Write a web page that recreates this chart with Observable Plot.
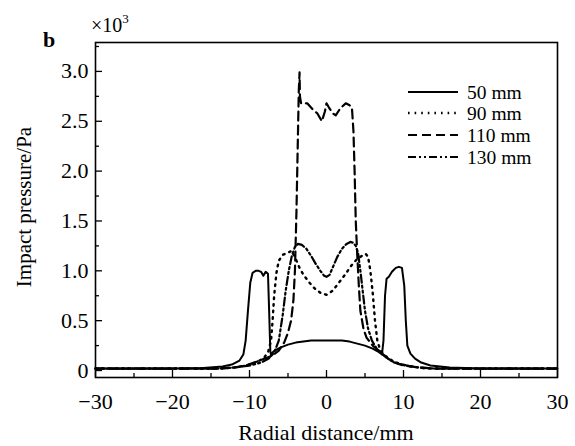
<!DOCTYPE html>
<html>
<head>
<meta charset="utf-8">
<script src="https://cdn.jsdelivr.net/npm/d3@7"></script>
<script src="https://cdn.jsdelivr.net/npm/@observablehq/plot@0.6"></script>
<style>
  html, body { margin: 0; padding: 0; background: #fff; font-family: "Liberation Serif", serif; }
  #wrap { position: relative; width: 575px; height: 446px; }
  #wrap svg { position: absolute; left: 0; top: 0; }
  #wrap svg, #wrap svg text { font-family: "Liberation Serif", "Times New Roman", serif !important; }
</style>
</head>
<body>
<div id="wrap"></div>
<script>
// ---- data (radial distance mm, impact pressure ×10^3 Pa) ----
const seriesNames = ["50 mm", "90 mm", "110 mm", "130 mm"];

const s50 = [[-30,0.02],[-25,0.02],[-20,0.02],[-16,0.025],[-13.5,0.04],[-12.3,0.06],[-11.3,0.10],[-10.8,0.16],[-10.5,0.3],[-10.2,0.6],[-9.9,0.88],[-9.6,0.98],[-9.2,1.0],[-8.8,1.0],[-8.5,0.99],[-8.2,0.95],[-7.9,0.99],[-7.6,0.97],[-7.45,0.6],[-7.3,0.2],[-7.2,0.15],[-6.9,0.19],[-6.5,0.21],[-6,0.23],[-5,0.26],[-4,0.28],[-3,0.29],[-2,0.3],[-1,0.3],[0,0.3],[1,0.3],[2,0.3],[3,0.29],[4,0.27],[5,0.25],[6,0.22],[6.7,0.19],[7.2,0.16],[7.4,0.3],[7.6,0.75],[7.8,0.92],[8.1,0.94],[8.5,0.99],[9.0,1.03],[9.4,1.04],[9.8,1.03],[10.1,0.85],[10.3,0.5],[10.5,0.25],[10.9,0.17],[11.5,0.12],[12.3,0.08],[13.5,0.05],[16,0.03],[20,0.02],[25,0.02],[30,0.02]];

const s90 = [[-30,0.02],[-20,0.02],[-14,0.02],[-12,0.03],[-10.5,0.05],[-9.2,0.08],[-8.2,0.12],[-7.6,0.18],[-7.2,0.3],[-7.0,0.5],[-6.8,0.75],[-6.5,0.98],[-6.2,1.1],[-5.7,1.16],[-5.1,1.18],[-4.5,1.2],[-4.0,1.12],[-3.5,1.03],[-3.0,0.96],[-2.2,0.88],[-1.5,0.82],[-0.8,0.78],[0,0.76],[0.8,0.8],[1.6,0.88],[2.4,0.96],[3.2,1.05],[4.0,1.12],[4.6,1.15],[5.1,1.17],[5.4,1.14],[5.7,1.0],[6.0,0.78],[6.3,0.5],[6.6,0.3],[7.0,0.2],[7.6,0.15],[8.5,0.1],[9.7,0.06],[11,0.04],[13,0.02],[20,0.02],[30,0.02]];

const s110 = [[-30,0.02],[-20,0.02],[-14,0.02],[-12,0.03],[-10.5,0.05],[-9,0.09],[-8,0.12],[-7,0.15],[-6.2,0.2],[-5.5,0.28],[-5,0.38],[-4.6,0.5],[-4.3,0.7],[-4.1,1.0],[-3.9,1.6],[-3.7,2.4],[-3.6,2.8],[-3.5,2.99],[-3.45,2.75],[-3.3,2.68],[-2.5,2.68],[-1.8,2.62],[-1.2,2.58],[-0.6,2.5],[-0.2,2.6],[0,2.68],[0.3,2.64],[0.8,2.58],[1.2,2.56],[1.8,2.63],[2.5,2.68],[3.0,2.66],[3.3,2.64],[3.5,2.4],[3.65,2.0],[3.8,1.5],[4.0,1.15],[4.2,0.85],[4.4,0.6],[4.8,0.42],[5.2,0.33],[6.0,0.25],[6.8,0.2],[7.8,0.13],[8.8,0.08],[10,0.05],[12,0.03],[14,0.02],[20,0.02],[30,0.02]];

const s130 = [[-30,0.02],[-20,0.02],[-14,0.02],[-12,0.03],[-10,0.05],[-8.5,0.08],[-7.5,0.12],[-6.8,0.18],[-6.2,0.3],[-5.7,0.55],[-5.3,0.8],[-4.9,1.0],[-4.5,1.15],[-4.1,1.24],[-3.7,1.27],[-3.2,1.26],[-2.6,1.22],[-2,1.15],[-1.4,1.07],[-0.8,1.0],[-0.3,0.95],[0,0.94],[0.4,0.96],[0.9,1.05],[1.4,1.14],[2,1.22],[2.6,1.27],[3.1,1.29],[3.5,1.28],[3.8,1.25],[4.1,1.18],[4.4,1.0],[4.7,0.8],[5.0,0.6],[5.4,0.42],[5.9,0.3],[6.5,0.22],[7.3,0.16],[8.3,0.1],[9.3,0.07],[10.5,0.05],[12,0.03],[14,0.02],[20,0.02],[30,0.02]];

const xMajor = [-30, -20, -10, 0, 10, 20, 30];
const xMinor = [-25, -15, -5, 5, 15, 25];
const yMajor = [0, 0.5, 1.0, 1.5, 2.0, 2.5, 3.0];
const yMinor = [0.25, 0.75, 1.25, 1.75, 2.25, 2.75, 3.25];

// ---- layout ----
const W = 575, H = 446;
const mL = 95, mR = 18, mT = 42, mB = 69;
const plotW = W - mL - mR, plotH = H - mT - mB;
const FONT = "Liberation Serif, Times New Roman, serif";

const styles = [
  {data: s50,  dash: null,          width: 2.0},
  {data: s90,  dash: "1.6,5",       width: 2.4},
  {data: s110, dash: "9,5",         width: 2.2},
  {data: s130, dash: "8,3,2,3,2,3", width: 2.2}
];

const lineMarks = styles.map(s => Plot.line(s.data, {
  x: d => d[0], y: d => d[1],
  stroke: "black", strokeWidth: s.width,
  strokeDasharray: s.dash || undefined,
  strokeLinejoin: "round", curve: "linear"
}));

const chart = Plot.plot({
  width: W, height: H,
  marginLeft: mL, marginRight: mR, marginTop: mT, marginBottom: mB,
  style: {fontFamily: FONT, fontSize: "22px", background: "white", color: "black", overflow: "visible"},
  x: {domain: [-30, 30]},
  y: {domain: [-0.07, 3.29]},
  marks: [
    ...lineMarks,
    Plot.ruleX(xMajor, {x: d => d, insetTop: plotH - 7, stroke: "black", strokeWidth: 1.3}),
    Plot.ruleX(xMinor, {x: d => d, insetTop: plotH - 4, stroke: "black", strokeWidth: 1.3}),
    Plot.ruleY(yMajor, {y: d => d, insetRight: plotW - 7, stroke: "black", strokeWidth: 1.3}),
    Plot.ruleY(yMinor, {y: d => d, insetRight: plotW - 4, stroke: "black", strokeWidth: 1.3}),
    Plot.axisX({ticks: xMajor, tickSize: 0, tickPadding: 16, label: null, fontSize: 22}),
    Plot.axisY({ticks: yMajor, tickSize: 0, tickPadding: 7, label: null, fontSize: 22,
                tickFormat: d => d === 0 ? "0" : d.toFixed(1)}),
    Plot.frame({stroke: "black", strokeWidth: 1.6})
  ]
});

const wrap = document.getElementById("wrap");
wrap.appendChild(chart);

// ---- overlay: titles, axis labels, legend ----
const ov = d3.select(wrap).append("svg")
  .attr("width", W).attr("height", H)
  .attr("font-family", FONT).style("pointer-events", "none");

ov.append("text").attr("x", 43).attr("y", 47).attr("font-size", 22)
  .attr("font-weight", "bold").text("b");

const sci = ov.append("text").attr("x", 91).attr("y", 32).attr("font-size", 20);
sci.append("tspan").text("×10");
sci.append("tspan").attr("font-size", 13).attr("dy", -9).text("3");

ov.append("text").attr("x", mL + plotW / 2).attr("y", 440)
  .attr("text-anchor", "middle").attr("font-size", 22).text("Radial distance/mm");

ov.append("text").attr("transform", "translate(31,207) rotate(-90)")
  .attr("text-anchor", "middle").attr("font-size", 21).text("Impact pressure/Pa");

const legY = [92, 113, 135, 157];
styles.forEach((s, i) => {
  const ln = ov.append("line").attr("x1", 408).attr("x2", 458)
    .attr("y1", legY[i]).attr("y2", legY[i])
    .attr("stroke", "black").attr("stroke-width", s.width);
  if (s.dash) ln.attr("stroke-dasharray", s.dash);
  ov.append("text").attr("x", 467).attr("y", legY[i] + 6.5).attr("font-size", 19.5)
    .text(seriesNames[i]);
});
</script>
</body>
</html>
